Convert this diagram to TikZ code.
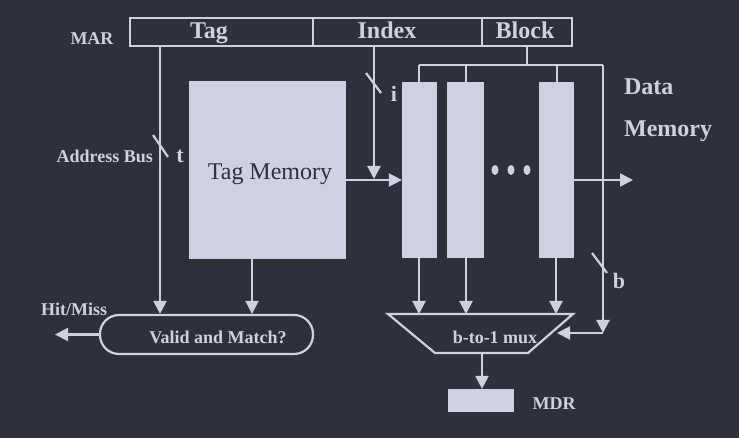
\documentclass[tikz,border=0pt]{standalone}
\usepackage{fontspec}
\setmainfont{Liberation Serif}
\usetikzlibrary{arrows.meta}
\definecolor{bgc}{RGB}{46,49,60}
\definecolor{fgc}{RGB}{205,209,226}
\begin{document}
\begin{tikzpicture}[x=1pt,y=-1pt,line width=2.2pt,
  ln/.style={draw=fgc},
  arr/.style={draw=fgc,-{Triangle[length=13pt,width=13pt]}},
  fld/.style={draw=fgc,rectangle,inner sep=0pt,minimum height=28pt},
  blk/.style={draw=fgc,fill=fgc,rectangle,inner sep=0pt},
  big/.style={text=fgc,inner sep=0pt,font=\fontsize{24}{28}\selectfont\bfseries},
  sml/.style={text=fgc,inner sep=0pt,font=\fontsize{18}{22}\selectfont\bfseries},
  lbl/.style={text=fgc,inner sep=0pt,font=\fontsize{22}{26}\selectfont\bfseries}]
\fill[bgc] (0,0) rectangle (739,438);
\useasboundingbox (0,0) rectangle (739,438);
% MAR register
\node[fld,minimum width=183pt] (tagf) at (221.5,32) {};
\node[fld,minimum width=169pt] (indexf) at (397.5,32) {};
\node[fld,minimum width=90pt] (blockf) at (527,32) {};
\node[big,anchor=base] (tagt) at (209,39) {Tag};
\node[big,anchor=base] (idxt) at (387,39) {Index};
\node[big,anchor=base] (blkt) at (525,39) {Block};
\node[sml,anchor=base] (mar) at (92,45) {MAR};
% tag memory
\node[blk,minimum width=155pt,minimum height=176pt] (tagmem) at (267.5,170) {};
\node[anchor=base,inner sep=0pt,text=bgc,font=\fontsize{24}{28}\selectfont] (tmt) at (270,180) {Tag Memory};
% data memory columns
\node[blk,minimum width=33pt,minimum height=174pt] (col1) at (419.5,170) {};
\node[blk,minimum width=35pt,minimum height=174pt] (col2) at (465.5,170) {};
\node[blk,minimum width=33pt,minimum height=174pt] (col3) at (556.5,170) {};
\fill[fgc] (495,170) ellipse (3.5 and 5) (511,170) ellipse (3.5 and 5) (527,170) ellipse (3.5 and 5);
\node[big,anchor=base west] (data) at (623,95) {Data};
\node[big,anchor=base west] (memt) at (623,137) {Memory};
% valid and match
\node[draw=fgc,rounded corners=19pt,minimum width=213pt,minimum height=39pt,inner sep=0pt] (vm) at (206.5,334.5) {};
\node[sml,anchor=base] (vmt) at (218,344) {Valid and Match?};
\node[sml,anchor=base west] (hm) at (40,316) {Hit/Miss};
\coordinate (hmend) at (55,334.5);
% mux
\coordinate (mtl) at (388,314);
\coordinate (mtr) at (573,314);
\coordinate (mbr) at (528,353);
\coordinate (mbl) at (435,353);
\draw[ln,line join=miter] (mtl) -- (mtr) -- (mbr) -- (mbl) -- cycle;
\node[sml,anchor=base] (muxt) at (495,344) {b-to-1 mux};
% MDR
\node[blk,minimum width=64pt,minimum height=21pt] (mdr) at (481,400.5) {};
\node[sml,anchor=base] (mdrt) at (554,409) {MDR};
% tag bus
\coordinate (tagtap) at (160,46);
\draw[arr] (tagtap) -- (tagtap |- vm.north);
\draw[ln] (153,135) -- (168,157);
\node[lbl,anchor=base] (tl) at (180,163) {t};
\node[sml,anchor=base east] (ab) at (154,163) {Address Bus};
\coordinate (tmo) at (252,258);
\draw[arr] (tmo) -- (tmo |- vm.north);
% index bus
\coordinate (idxtap) at (374,46);
\draw[arr] (idxtap) -- (374,179);
\draw[ln] (366,73) -- (381,93);
\node[lbl,anchor=base] (il) at (394,102) {i};
\coordinate (hy) at (345,180);
\draw[arr] (hy) -- (hy -| col1.west);
% block bus
\coordinate (blktap) at (527,46);
\coordinate (bj) at (527,65);
\coordinate (bl) at (419,65);
\coordinate (br) at (603,65);
\draw[ln] (blktap) -- (bj);
\draw[ln] (bl) -- (br);
\draw[ln] (bl) -- (col1.north -| bl);
\draw[ln] (466,65) -- (col2.north -| 466,0);
\draw[ln] (557,65) -- (col3.north -| 557,0);
\coordinate (bc) at (603,333);
\draw[arr] (br) -- (bc);
\draw[arr] (bc) -- (557,333);
\draw[ln] (592,253) -- (607,273);
\node[lbl,anchor=base] (bl2) at (619,289) {b};
% output
\coordinate (oy) at (573,180);
\draw[arr] (oy) -- (633,180);
% columns to mux
\draw[arr] (col1.south -| 419,0) -- (419,314);
\draw[arr] (col2.south -| 466,0) -- (466,314);
\draw[arr] (col3.south -| 556,0) -- (556,314);
% mux to MDR
\coordinate (mo) at (482,353);
\draw[arr] (mo) -- (mdr.north -| mo);
% hit/miss
\draw[arr] (vm.west) -- (hmend);
\end{tikzpicture}
\end{document}
